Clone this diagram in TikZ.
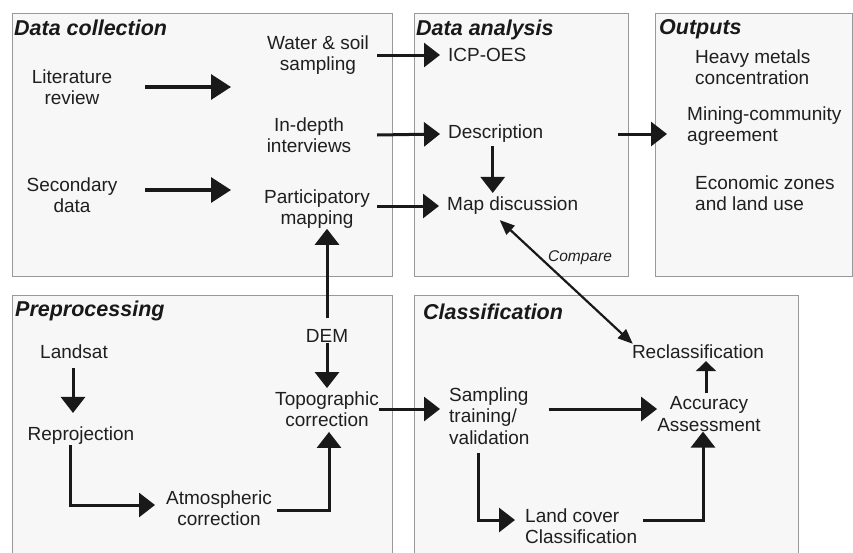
\documentclass[tikz,border=0pt]{standalone}
\usepackage{fontspec}
\setmainfont{Liberation Sans}
\usetikzlibrary{arrows.meta}
\begin{document}
\begin{tikzpicture}[x=1pt,y=-1pt,
  panel/.style={draw=black!40, fill=black!3, line width=0.8pt, anchor=north west, inner sep=0pt, outer sep=0pt},
  head/.style={font=\fontsize{21.5}{25}\selectfont\bfseries\itshape, anchor=base west, inner sep=0pt, text=black!90},
  lbl/.style={font=\fontsize{19}{21.5}\selectfont, align=center, inner sep=0pt, text=black!88},
  lbll/.style={lbl, align=left, anchor=west},
  arr/.style={line width=3pt, draw=black!90, -{Triangle[length=16pt,width=24pt]}},
  smallarr/.style={line width=3pt, draw=black!90, -{Triangle[length=10pt,width=20pt]}},
  bigarr/.style={line width=3.3pt, draw=black!90, -{Triangle[length=20pt,width=25pt]}},
  cmp/.style={line width=2.2pt, draw=black!90, {Triangle[length=15pt,width=12pt]}-{Triangle[length=15pt,width=12pt]}},
]
\useasboundingbox (0,0) rectangle (853,552);
\fill[white] (0,0) rectangle (853,552);

% panels
\node[panel, minimum width=380pt, minimum height=263pt] (dc) at (12,13) {};
\node[panel, minimum width=214pt, minimum height=263pt] (da) at (414,13) {};
\node[panel, minimum width=197pt, minimum height=263pt] (out) at (655,13) {};
\node[panel, minimum width=380pt, minimum height=270pt] (pre) at (12,295) {};
\node[panel, minimum width=384pt, minimum height=270pt] (cls) at (414,295) {};

% headings
\node[head] (hdc) at (14,35) {Data collection};
\node[head] (hda) at (416,35) {Data analysis};
\node[head] (hout) at (659,34) {Outputs};
\node[head] (hpre) at (15,316) {Preprocessing};
\node[head] (hcls) at (423,319) {Classification};

% data collection
\node[lbl] (lit) at (72,87) {Literature\\review};
\node[lbl] (sec) at (72,195) {Secondary\\data};
\node[lbl] (water) at (318,55) {Water \& soil\\sampling};
\node[lbl] (indepth) at (309,135) {In-depth\\interviews};
\node[lbl] (part) at (317,209) {Participatory\\mapping};

% data analysis
\node[lbll] (icp) at (448,55) {ICP-OES};
\node[lbll] (desc) at (448,134) {Description};
\node[lbll] (mapd) at (447,206) {Map discussion};
\node[font=\fontsize{15.5}{18}\selectfont\itshape, inner sep=0pt, text=black!88] (cmpl) at (580,258) {Compare};

% outputs
\node[lbll] (heavy) at (695,67) {Heavy metals\\concentration};
\node[lbll] (mining) at (687,126) {Mining-community\\agreement};
\node[lbll] (econ) at (695,193) {Economic zones\\and land use};

% preprocessing
\node[lbl] (dem) at (327,336) {DEM};
\node[lbl] (landsat) at (74,352) {Landsat};
\node[lbl] (reproj) at (81,436) {Reprojection};
\node[lbl] (atmos) at (219,508) {Atmospheric\\correction};
\node[lbl] (topo) at (327,409) {Topographic\\correction};

% classification
\node[lbl] (reclass) at (698,352) {Reclassification};
\node[lbll] (samp) at (449,416) {Sampling\\training/\\validation};
\node[lbl] (accu) at (709,414) {Accuracy\\Assessment};
\node[lbll] (landc) at (525,526) {Land cover\\Classification};

\coordinate (lx) at (145,0);
\coordinate (dcx) at (377,0);

% connectors
\draw[bigarr] (lit.east -| lx) -- ++(86,0);
\draw[bigarr] ([yshift=5pt]sec.east -| lx) -- ++(86,0);
\draw[arr] (water.east -| dcx) -- ([xshift=-8pt]icp.west);
\draw[arr] (indepth.east -| dcx) -- ([xshift=-8pt]desc.west);
\draw[arr] (mapd.west -| dcx) -- ([xshift=-8pt]mapd.west);
\draw[arr, shorten <=3pt, shorten >=4pt] ([xshift=-3pt]desc.south) -- ([xshift=-3pt]desc.south |- mapd.north);
\draw[arr] ([xshift=-10pt]da.east |- desc.west) -- ([xshift=12pt]out.west |- desc.west);
\draw[cmp] ([xshift=-13pt,yshift=-5pt]mapd.south) -- ([xshift=1pt,yshift=1pt]reclass.north west);

\draw[arr] ([yshift=11pt]dem.north) -- (dem.north |- part.south);
\draw[arr, shorten >=3pt] (dem.south) -- (dem.south |- topo.north);
\draw[arr, shorten <=9pt, shorten >=14pt] ([xshift=-1pt]landsat.south) -- ([xshift=-1pt]landsat.south |- reproj.north);
\draw[arr, shorten >=11pt] ([xshift=-11pt]reproj.south) |- ([yshift=3pt]atmos.west);
\draw[arr, shorten <=5pt, shorten >=5pt] ([yshift=-2pt]atmos.east) -| ([xshift=2pt]topo.south);
\draw[arr, shorten >=9pt] (topo.east) -- (topo.east -| samp.west);

\draw[arr] ([xshift=19pt,yshift=7pt]samp.east) -- ([yshift=5pt]accu.west);
\draw[arr, shorten <=8pt, shorten >=10pt] ([xshift=-11pt]samp.south) |- ([yshift=6pt]landc.west);
\draw[arr] ([xshift=6pt,yshift=6pt]landc.east) -| ([xshift=-6pt]accu.south);
\draw[smallarr] ([xshift=-3pt,yshift=3pt]accu.north) -- ([xshift=-3pt,yshift=-2pt]accu.north |- reclass.south);
\end{tikzpicture}
\end{document}
